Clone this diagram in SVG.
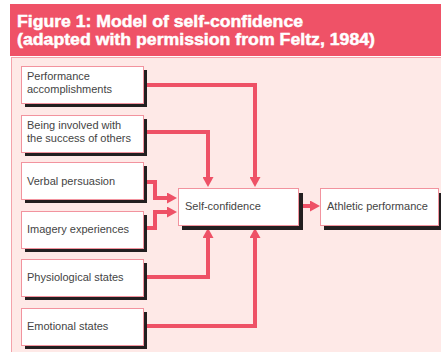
<svg xmlns="http://www.w3.org/2000/svg" width="441" height="352" viewBox="0 0 441 352">
  <style>
    .box { fill: #ffffff; stroke: #f2939e; stroke-width: 1; }
    .shadow { fill: #231f20; }
    .lbl { font-family: "Liberation Sans", Arial, sans-serif; font-size: 11px; fill: #444444; }
    .head { font-family: "Liberation Sans", Arial, sans-serif; font-weight: bold; font-size: 17px; fill: #ffffff; stroke: #ffffff; stroke-width: 0.5; }
    .conn { fill: none; stroke: #ee5166; stroke-width: 4; stroke-linejoin: miter; }
  </style>
  <defs>
    <marker id="ah" markerUnits="userSpaceOnUse" markerWidth="11" markerHeight="11" refX="0" refY="5.5" orient="auto">
      <path d="M0,0 L10,5.5 L0,11 z" fill="#ee5166"/>
    </marker>
  </defs>
  <rect x="0" y="0" width="441" height="352" fill="#ffffff"/>
  <g id="header">
    <rect x="10" y="4" width="431" height="52" fill="#ef5267"/>
    <text class="head" x="17" y="27" textLength="286" lengthAdjust="spacingAndGlyphs">Figure 1: Model of self-confidence</text>
    <text class="head" x="17" y="45" textLength="358" lengthAdjust="spacingAndGlyphs">(adapted with permission from Feltz, 1984)</text>
  </g>
  <rect x="11.5" y="57.5" width="440" height="300" fill="#fee9e7" stroke="#f4a3ab" stroke-width="1"/>

  <g id="connectors">
    <path class="conn" d="M143,85 H255 V177" marker-end="url(#ah)"/>
    <path class="conn" d="M143,132 H208 V177" marker-end="url(#ah)"/>
    <path class="conn" d="M143,182 H155 V198 H167" marker-end="url(#ah)"/>
    <path class="conn" d="M143,228 H155 V212 H167" marker-end="url(#ah)"/>
    <path class="conn" d="M143,277 H208 V238" marker-end="url(#ah)"/>
    <path class="conn" d="M143,326 H255 V238" marker-end="url(#ah)"/>
    <path class="conn" d="M303,206 H310" marker-end="url(#ah)"/>
  </g>

  <g id="performance">
    <rect class="shadow" x="25" y="70" width="122" height="37"/>
    <rect class="box" x="21.5" y="66.5" width="122" height="37"/>
    <text class="lbl" x="27" y="80">Performance</text>
    <text class="lbl" x="27" y="93">accomplishments</text>
  </g>
  <g id="being-involved">
    <rect class="shadow" x="25" y="119" width="122" height="37"/>
    <rect class="box" x="21.5" y="115.5" width="122" height="37"/>
    <text class="lbl" x="27" y="129">Being involved with</text>
    <text class="lbl" x="27" y="142">the success of others</text>
  </g>
  <g id="verbal">
    <rect class="shadow" x="25" y="166" width="122" height="37"/>
    <rect class="box" x="21.5" y="162.5" width="122" height="37"/>
    <text class="lbl" x="27" y="185">Verbal persuasion</text>
  </g>
  <g id="imagery">
    <rect class="shadow" x="25" y="215" width="122" height="37"/>
    <rect class="box" x="21.5" y="211.5" width="122" height="37"/>
    <text class="lbl" x="27" y="233">Imagery experiences</text>
  </g>
  <g id="physiological">
    <rect class="shadow" x="25" y="263" width="122" height="37"/>
    <rect class="box" x="21.5" y="259.5" width="122" height="37"/>
    <text class="lbl" x="27" y="281">Physiological states</text>
  </g>
  <g id="emotional">
    <rect class="shadow" x="25" y="312" width="122" height="37"/>
    <rect class="box" x="21.5" y="308.5" width="122" height="37"/>
    <text class="lbl" x="27" y="330">Emotional states</text>
  </g>
  <g id="self-confidence">
    <rect class="shadow" x="182" y="193" width="121" height="37"/>
    <rect class="box" x="178.5" y="188.5" width="120" height="37"/>
    <text class="lbl" x="185" y="210">Self-confidence</text>
  </g>
  <g id="athletic-performance">
    <rect class="shadow" x="324" y="193" width="121" height="37"/>
    <rect class="box" x="320.5" y="188.5" width="118" height="37"/>
    <text class="lbl" x="327" y="210">Athletic performance</text>
  </g>
</svg>
